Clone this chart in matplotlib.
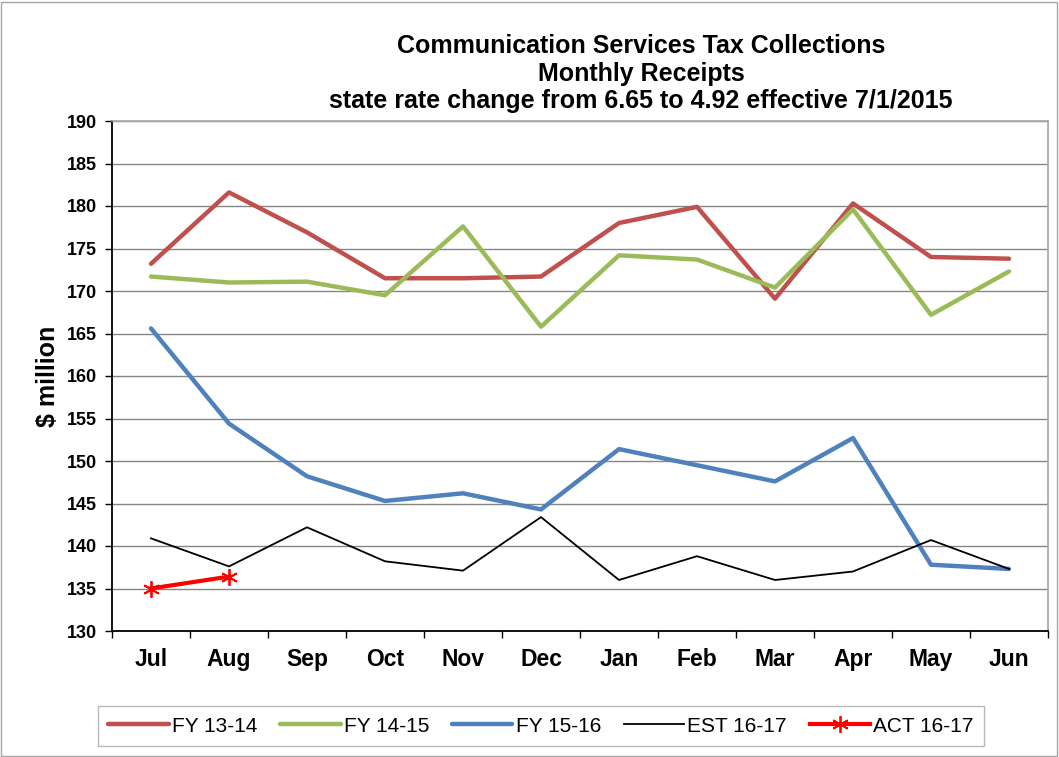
import matplotlib
matplotlib.use("Agg")
import matplotlib.pyplot as plt
from matplotlib.patches import Rectangle

months = ["Jul", "Aug", "Sep", "Oct", "Nov", "Dec", "Jan", "Feb", "Mar", "Apr", "May", "Jun"]
fy1314 = [173.2, 181.6, 176.9, 171.5, 171.5, 171.7, 178.0, 179.9, 169.1, 180.3, 174.0, 173.8]
fy1415 = [171.7, 171.0, 171.1, 169.5, 177.6, 165.8, 174.2, 173.7, 170.4, 179.6, 167.2, 172.3]
fy1516 = [165.6, 154.4, 148.2, 145.3, 146.2, 144.3, 151.4, 149.5, 147.6, 152.7, 137.8, 137.3]
est1617 = [140.9, 137.6, 142.2, 138.2, 137.1, 143.4, 136.0, 138.8, 136.0, 137.0, 140.7, 137.3]
act1617 = [135.0, 136.4]
yticks = list(range(130, 191, 5))

plt.rcParams['font.family'] = ['Liberation Sans', 'DejaVu Sans']

W, H = 1059, 757
fig = plt.figure(figsize=(W / 100, H / 100), dpi=100)
ax = fig.add_axes([112 / W, 1 - 631 / H, (1048 - 112) / W, (631 - 121) / H])

x = list(range(len(months)))
ax.plot(x, fy1314, color="#C0504D", lw=3.2, label="FY 13-14", solid_capstyle="round")
ax.plot(x, fy1415, color="#9BBB59", lw=3.2, label="FY 14-15", solid_capstyle="round")
ax.plot(x, fy1516, color="#4F81BD", lw=3.2, label="FY 15-16", solid_capstyle="round")
ax.plot(x, est1617, color="black", lw=1.3, label="EST 16-17")
ax.plot(x[:len(act1617)], act1617, color="#FF0000", lw=3, marker=(6, 2, 0), ms=12,
        mew=1.3, label="ACT 16-17")

ax.set_xlim(-0.5, len(months) - 0.5)
ax.set_ylim(130, 190)
ax.set_yticks(yticks)
ax.set_yticklabels([str(v) for v in yticks], fontsize=13, fontweight="bold")
ax.set_xticks(x)
ax.set_xticklabels(months, fontsize=16.5, fontweight="bold")
ax.set_xticks([i - 0.5 for i in range(len(months) + 1)], minor=True)
ax.tick_params(axis="x", which="major", length=0, pad=12)
ax.tick_params(axis="x", which="minor", length=5, width=1, direction="out")
ax.tick_params(axis="y", length=5, width=1, direction="out", pad=6)
ax.grid(axis="y", color="#868686", lw=1)
ax.set_axisbelow(True)
for s in ["top", "right"]:
    ax.spines[s].set_color("#A6A6A6")
    ax.spines[s].set_linewidth(1.2)
for s in ["left", "bottom"]:
    ax.spines[s].set_color("black")
    ax.spines[s].set_linewidth(1.3)

ax.set_ylabel("$ million", fontsize=18, fontweight="bold")
ax.yaxis.set_label_coords((60 - 112) / (1048 - 112), 0.5)

for txt, yy in [("Communication Services Tax Collections", 46),
                ("Monthly Receipts", 74),
                ("state rate change from 6.65 to 4.92 effective 7/1/2015", 101)]:
    fig.text(641 / W, 1 - yy / H, txt, ha="center", va="center", fontsize=18, fontweight="bold")

leg = fig.legend(loc="center", bbox_to_anchor=(541 / W, 1 - 726 / H), ncol=5, frameon=True,
                 fancybox=False, edgecolor="#A6A6A6", fontsize=15, handlelength=2.9,
                 handletextpad=0.15, columnspacing=1.1, borderpad=0.5)
leg.get_frame().set_linewidth(1)

fig.patches.append(Rectangle((1 / W, 1 / H), 1 - 3 / W, 1 - 3 / H, transform=fig.transFigure,
                             fill=False, edgecolor="#A6A6A6", lw=1))

fig.savefig("out.png", dpi=100)
